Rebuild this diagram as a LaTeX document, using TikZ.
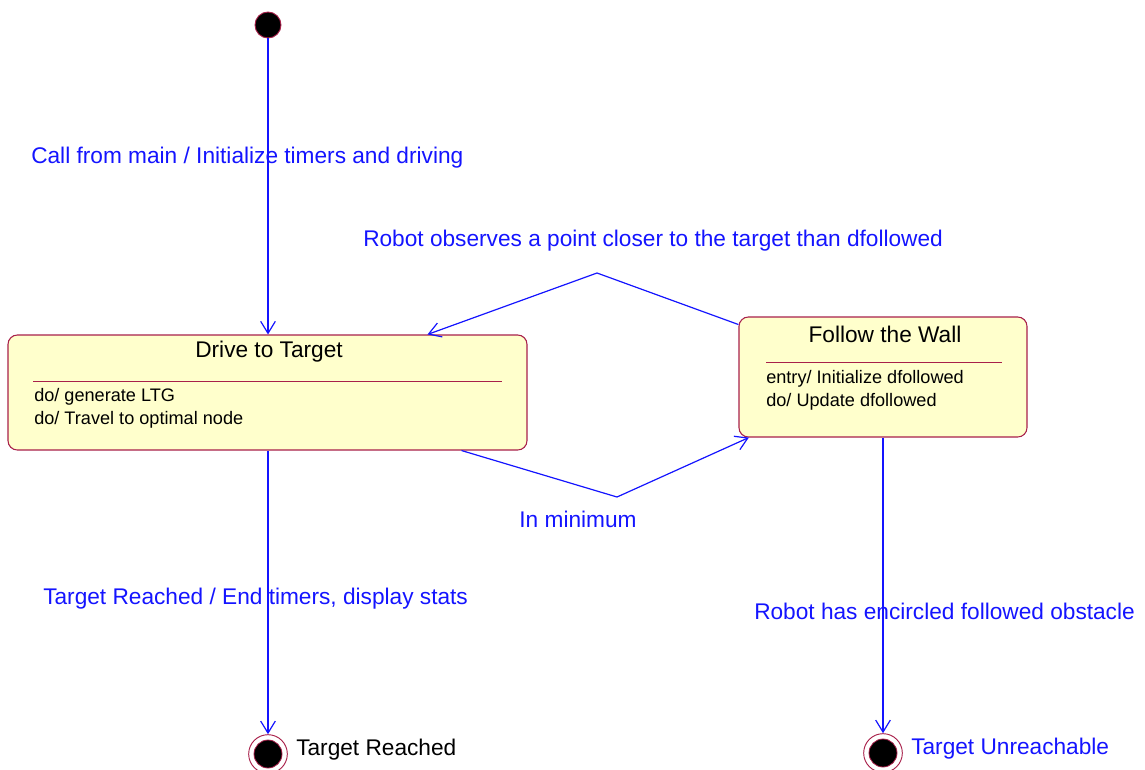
\documentclass[tikz,border=0pt]{standalone}
\usepackage{fontspec}
\setmainfont{Liberation Sans}
\usetikzlibrary{arrows.meta}
\definecolor{statefill}{HTML}{FFFFCC}
\definecolor{stateline}{HTML}{A8204A}
\definecolor{trans}{HTML}{1414FF}
\tikzset{
  statebox/.style={draw=stateline, fill=statefill, line width=0.8pt, rounded corners=7pt, inner sep=0pt},
  titletext/.style={inner sep=0pt, font=\fontsize{17}{20}\selectfont},
  acttext/.style={inner sep=0pt, anchor=west, font=\fontsize{13.6}{16}\selectfont},
  sepline/.style={draw=stateline, line width=0.7pt},
  translabel/.style={inner sep=0pt, text=trans, font=\fontsize{17}{20}\selectfont},
  transition/.style={draw=trans, line width=0.9pt, -{Straight Barb[length=9pt,width=11pt,line width=0.9pt]}},
  initstate/.style={circle, draw=stateline, fill=black, line width=0.7pt, minimum size=19.5pt, inner sep=0pt},
  finalouter/.style={circle, draw=stateline, line width=0.7pt, minimum size=29pt, inner sep=0pt},
  finalinner/.style={circle, draw=stateline, fill=black, line width=0.6pt, minimum size=21pt, inner sep=0pt},
}
\begin{document}
\begin{tikzpicture}[x=0.75pt, y=-0.75pt]
\useasboundingbox (0,0) rectangle (1145,769);

% states
\node[initstate] (init) at (268,25) {};
\node[statebox, minimum width=389.25pt, minimum height=86.25pt] (drive) at (267.5,392.5) {};
\node[statebox, minimum width=216pt, minimum height=90pt] (follow) at (883,377) {};
\node[finalouter] (reached) at (268,754) {};
\node[finalinner] (reachedin) at (268,754) {};
\node[finalouter] (unreach) at (883,753) {};
\node[finalinner] (unreachin) at (883,753) {};

% compartments of "Drive to Target"
\node[titletext] (drivetitle) at (269,352) {Drive to Target};
\coordinate (ds1) at (33,381);
\coordinate (ds2) at (502,381);
\draw[sepline] (ds1) -- (ds2);
\node[acttext] (dact1) at (34,397) {do/ generate LTG};
\node[acttext] (dact2) at (34,420) {do/ Travel to optimal node};

% compartments of "Follow the Wall"
\node[titletext] (followtitle) at (885,334) {Follow the Wall};
\coordinate (fs1) at (766,362);
\coordinate (fs2) at (1002,362);
\draw[sepline] (fs1) -- (fs2);
\node[acttext] (fact1) at (766,379) {entry/ Initialize dfollowed};
\node[acttext] (fact2) at (766,402) {do/ Update dfollowed};

% final state captions
\node[titletext, anchor=west] (reachedlbl) at (296,750) {Target Reached};
\node[titletext, anchor=west, text=trans] (unreachlbl) at (911,749) {Target Unreachable};

% transitions
\coordinate (bendtop) at (597,273);
\coordinate (bendbot) at (617,497);
\draw[transition] (init) -- (init |- drive.north);
\draw[transition] (follow) -- (bendtop) -- (drive);
\draw[transition] (drive) -- (bendbot) -- (follow);
\draw[transition] (drive.south -| reached) -- (reached);
\draw[transition] (follow.south -| unreach) -- (unreach);

% transition labels
\node[translabel, anchor=west] (l1) at (31,158) {Call from main / Initialize timers and driving};
\node[translabel, anchor=west] (l2) at (363,241) {Robot observes a point closer to the target than dfollowed};
\node[translabel] (l3) at (578,519) {In minimum};
\node[translabel, anchor=west] (l4) at (43,599) {Target Reached / End timers, display stats};
\node[translabel, anchor=west] (l5) at (754,611) {Robot has encircled followed obstacle};
\end{tikzpicture}
\end{document}
